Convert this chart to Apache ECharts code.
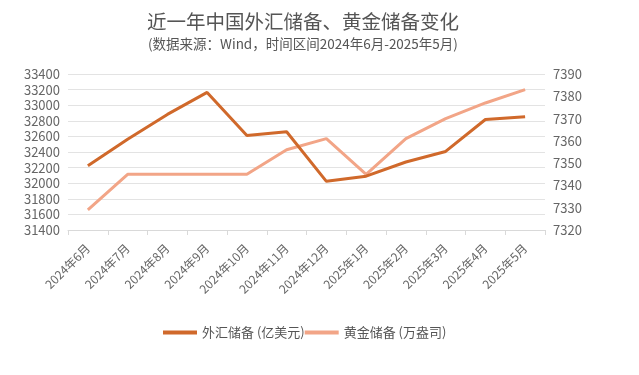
<!DOCTYPE html>
<html><head><meta charset="utf-8">
<script src="https://cdn.jsdelivr.net/npm/echarts@6/dist/echarts.min.js"></script>
<style>html,body{margin:0;padding:0;background:#fff}#c{width:639px;height:375px}</style>
</head><body><div id="c"></div>
<script>
const categories = ['2024年6月','2024年7月','2024年8月','2024年9月','2024年10月','2024年11月','2024年12月','2025年1月','2025年2月','2025年3月','2025年4月','2025年5月'];
const fxReserves = [32224, 32564, 32882, 33164, 32611, 32659, 32024, 32090, 32272, 32407, 32817, 32853];
const goldReserves = [7329, 7345, 7345, 7345, 7345, 7356, 7361, 7345, 7361, 7370, 7377, 7383];
const seriesNames = ['外汇储备 (亿美元)', '黄金储备 (万盎司)'];
const font = '"Noto Sans CJK SC", "Noto Sans", sans-serif';
const chart = echarts.init(document.getElementById('c'), null, {renderer: 'canvas'});
chart.setOption({
  backgroundColor: '#fff',
  textStyle: {fontFamily: font},
  title: [
    {text: '近一年中国外汇储备、黄金储备变化', left: 142, top: 7,
     textStyle: {fontFamily: font, fontSize: 19.5, fontWeight: 'normal', color: '#555'}},
    {text: '(数据来源：Wind，时间区间2024年6月-2025年5月)', left: 143, top: 32,
     textStyle: {fontFamily: font, fontSize: 13.5, fontWeight: 'normal', color: '#555'}}
  ],
  legend: {
    left: 158, top: 321, itemWidth: 34, itemHeight: 4, itemGap: 0,
    icon: 'rect',
    textStyle: {fontFamily: font, fontSize: 13, color: '#555'},
    data: seriesNames
  },
  grid: {left: 68, right: 94, top: 74, bottom: 145},
  xAxis: {
    type: 'category', data: categories, boundaryGap: true,
    axisLine: {lineStyle: {color: '#d9d9d9'}},
    axisTick: {show: true, lineStyle: {color: '#d9d9d9'}},
    axisLabel: {rotate: 45, fontSize: 12, color: '#666', fontFamily: font, margin: 16, interval: 0}
  },
  yAxis: [
    {type: 'value', min: 31400, max: 33400, interval: 200,
     axisLine: {show: false}, axisTick: {show: false},
     axisLabel: {fontSize: 13, color: '#666', fontFamily: font, margin: 8, formatter: v => String(v)},
     splitLine: {lineStyle: {color: '#e3e3e3', width: 1}}},
    {type: 'value', min: 7320, max: 7390, interval: 10,
     axisLine: {show: false}, axisTick: {show: false},
     axisLabel: {fontSize: 13, color: '#666', fontFamily: font, margin: 8, formatter: v => String(v)},
     splitLine: {show: false}}
  ],
  series: [
    {name: seriesNames[0], type: 'line', data: fxReserves, yAxisIndex: 0,
     symbol: 'none', lineStyle: {color: '#d0692b', width: 3}, itemStyle: {color: '#d0692b'}, z: 3},
    {name: seriesNames[1], type: 'line', data: goldReserves, yAxisIndex: 1,
     symbol: 'none', lineStyle: {color: '#f2a587', width: 3}, itemStyle: {color: '#f2a587'}, z: 2}
  ],
  animation: false
});
</script></body></html>
